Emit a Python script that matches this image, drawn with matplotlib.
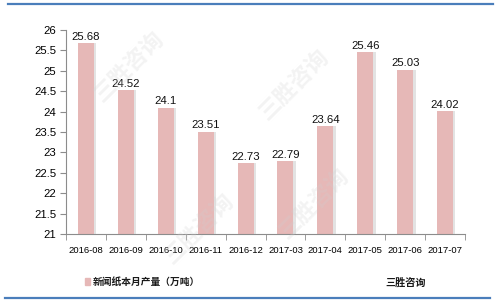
import matplotlib
matplotlib.use("Agg")
import matplotlib.pyplot as plt
from matplotlib.lines import Line2D
import numpy as np

plt.rcParams['font.family'] = ['Liberation Sans', 'Noto Sans CJK SC', 'DejaVu Sans']

months = ["2016-08", "2016-09", "2016-10", "2016-11", "2016-12",
          "2017-03", "2017-04", "2017-05", "2017-06", "2017-07"]
output = [25.68, 24.52, 24.1, 23.51, 22.73, 22.79, 23.64, 25.46, 25.03, 24.02]
yticks = [21, 21.5, 22, 22.5, 23, 23.5, 24, 24.5, 25, 25.5, 26]

bar_color = "#E6B8B7"
shadow_color = "#E3E3E3"
axis_color = "#8C8C8C"
blue = "#4A7EBB"

fig = plt.figure(figsize=(5, 3.05), dpi=100)
ax = fig.add_axes([0.132, 0.2328, 0.798, 0.6688])

x = np.arange(len(months))
# shadow first, then bar
ax.bar(x + 0.06, output, width=0.4, color=shadow_color, zorder=1)
ax.bar(x, output, width=0.4, color=bar_color, zorder=2)

for xi, v in zip(x, output):
    ax.text(xi, v + 0.03, f"{v:g}", ha="center", va="bottom", fontsize=8.2,
            color="#111111", zorder=3)

ax.set_xlim(-0.5, len(months) - 0.5)
ax.set_ylim(21, 26)
ax.set_yticks(yticks)
ax.set_yticklabels([f"{t:g}" for t in yticks], fontsize=8.2)
ax.set_xticks(x)
ax.set_xticklabels(months, fontsize=6.8)
ax.set_xticks(np.arange(-0.5, len(months)), minor=True)
ax.tick_params(axis="x", which="major", length=0, pad=9)
ax.tick_params(axis="x", which="minor", length=4, color=axis_color)
ax.tick_params(axis="y", length=4, color=axis_color, pad=3)

for side in ["top", "right"]:
    ax.spines[side].set_visible(False)
for side in ["left", "bottom"]:
    ax.spines[side].set_color(axis_color)
    ax.spines[side].set_linewidth(0.8)

# legend and source text
fig.patches.append(plt.Rectangle((0.17, 0.066), 0.01, 0.022, transform=fig.transFigure,
                                 color=bar_color, figure=fig))
fig.text(0.186, 0.076, "新闻纸本月产量（万吨）", fontsize=7, fontweight="bold",
         va="center", ha="left", color="#1A1A1A")
fig.text(0.77, 0.074, "三胜咨询", fontsize=7.3, fontweight="bold",
         va="center", ha="left", color="#1A1A1A")

# blue frame lines
fig.add_artist(Line2D([0.016, 0.986], [0.986, 0.986], color=blue, lw=1.6))
fig.add_artist(Line2D([0.01, 0.98], [0.023, 0.023], color=blue, lw=1.6))

# faint watermarks
for wx, wy in [(0.26, 0.78), (0.40, 0.25), (0.59, 0.72), (0.63, 0.33)]:
    fig.text(wx, wy, "三胜咨询", fontsize=16, rotation=45, color="#D0D0D0",
             alpha=0.25, ha="center", va="center", fontweight="bold", zorder=0)

fig.savefig("out.png", dpi=100)
